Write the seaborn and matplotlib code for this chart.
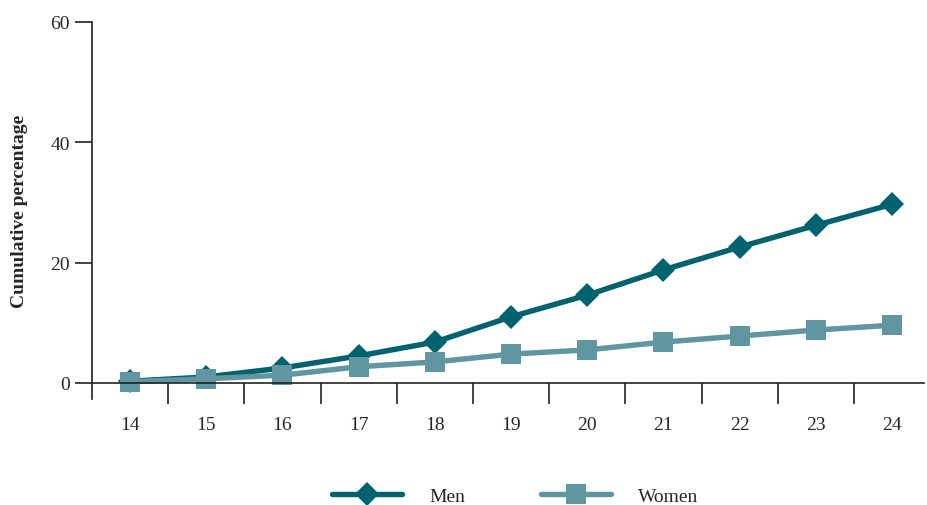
import pandas as pd
import numpy as np
import matplotlib.pyplot as plt
import seaborn as sns
from matplotlib.ticker import FixedLocator

# data
ages = [14, 15, 16, 17, 18, 19, 20, 21, 22, 23, 24]
men = [0.3, 1.0, 2.5, 4.5, 6.8, 11.0, 14.6, 18.8, 22.6, 26.2, 29.7]
women = [0.2, 0.7, 1.3, 2.7, 3.5, 4.8, 5.5, 6.8, 7.8, 8.8, 9.6]
series_names = ['Men', 'Women']

df = pd.DataFrame({
    'age': ages * 2,
    'value': men + women,
    'sex': ['Men'] * len(ages) + ['Women'] * len(ages),
})

sns.set_style('white')
plt.rcParams['font.family'] = ['Liberation Serif', 'DejaVu Serif']

fig = plt.figure(figsize=(9.27, 5.06), dpi=100)
ax = fig.add_axes([92 / 927, 1 - 400 / 506, (924 - 92) / 927, (400 - 23) / 506])

palette = {'Men': '#00616f', 'Women': '#5f96a1'}
markers = {'Men': 'D', 'Women': 's'}
sizes = {'Men': 12, 'Women': 15}

for name in series_names:
    sub = df[df['sex'] == name]
    sns.lineplot(data=sub, x='age', y='value', color=palette[name], marker=markers[name],
                 markersize=sizes[name], markeredgewidth=0, linewidth=3.9, label=name,
                 ax=ax, legend=False)

ax.set_xlim(13.5, 24.42)
ax.set_ylim(-2.66, 60)
ax.set_yticks([0, 20, 40, 60])
ax.set_xticks(ages)
ax.xaxis.set_minor_locator(FixedLocator([a + 0.5 for a in ages[:-1]]))
ax.tick_params(axis='x', which='major', bottom=True, length=0, pad=24, labelsize=14)
ax.tick_params(axis='x', which='minor', bottom=True, length=15, width=1.2,
               direction='out', color='#222222')
ax.tick_params(axis='y', left=True, length=12, width=1.2, labelsize=14,
               color='#222222', pad=4)

for s in ['top', 'right']:
    ax.spines[s].set_visible(False)
ax.spines['bottom'].set_position(('data', 0))
for s in ['bottom', 'left']:
    ax.spines[s].set_linewidth(1.2)
    ax.spines[s].set_color('#222222')

ax.set_xlabel('')
ax.set_ylabel('Cumulative percentage', fontsize=14, fontweight='bold', labelpad=16)

handles, labels = ax.get_legend_handles_labels()
fig.legend(handles, labels, loc='lower center', bbox_to_anchor=(0.556, -0.035), ncol=2,
           frameon=False, fontsize=14, handlelength=3.6, columnspacing=3.9, handletextpad=1.4)

plt.savefig('out.png', dpi=100)
